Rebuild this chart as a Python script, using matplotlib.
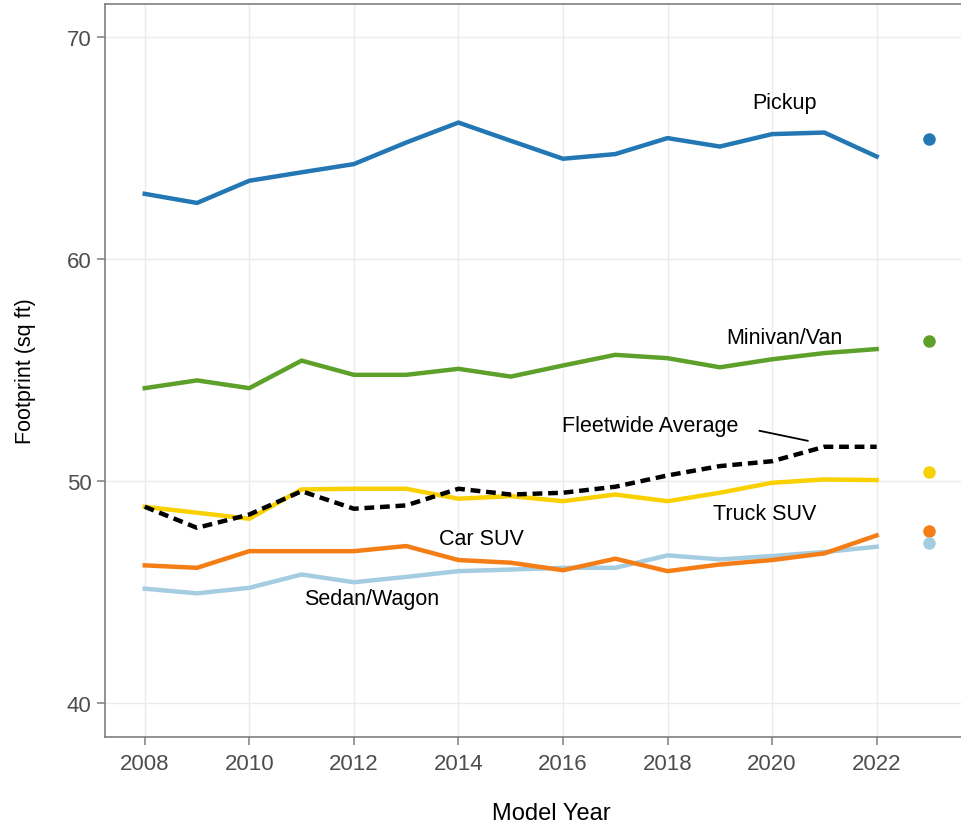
import matplotlib.pyplot as plt

plt.rcParams['font.family'] = ['Liberation Sans', 'DejaVu Sans']

years = list(range(2008, 2023))
dot_year = 2023

pickup = [62.95, 62.54, 63.54, 63.92, 64.29, 65.26, 66.16, 65.34, 64.53, 64.74, 65.46, 65.08, 65.64, 65.71, 64.63]
minivan = [54.2, 54.55, 54.2, 55.44, 54.8, 54.8, 55.07, 54.72, 55.22, 55.7, 55.55, 55.14, 55.5, 55.78, 55.96]
truck_suv = [48.86, 48.59, 48.32, 49.64, 49.67, 49.67, 49.22, 49.34, 49.11, 49.41, 49.11, 49.49, 49.94, 50.09, 50.06]
car_suv = [46.22, 46.11, 46.86, 46.86, 46.86, 47.09, 46.46, 46.34, 46.0, 46.52, 45.96, 46.26, 46.46, 46.76, 47.57]
sedan = [45.17, 44.96, 45.21, 45.81, 45.46, 45.7, 45.96, 46.03, 46.11, 46.11, 46.67, 46.49, 46.64, 46.82, 47.06]
fleet = [48.86, 47.91, 48.51, 49.56, 48.77, 48.92, 49.67, 49.41, 49.49, 49.76, 50.27, 50.69, 50.91, 51.56, 51.56]

# 2023 dots
dots = {'pickup': 65.41, 'minivan': 56.34, 'truck_suv': 50.42, 'car_suv': 47.76, 'sedan': 47.24}

colors = {
    'pickup': '#2377b4',
    'minivan': '#5da02a',
    'truck_suv': '#f9d000',
    'car_suv': '#f57d15',
    'sedan': '#a5cde2',
}

fig = plt.figure(figsize=(9.61, 8.29), dpi=100)
ax = fig.add_axes([0.109, 0.11, 0.93, 0.884])

ax.plot(years, sedan, color=colors['sedan'], lw=3.2, zorder=3)
ax.plot(years, car_suv, color=colors['car_suv'], lw=3.2, zorder=3)
ax.plot(years, truck_suv, color=colors['truck_suv'], lw=3.2, zorder=3)
ax.plot(years, minivan, color=colors['minivan'], lw=3.2, zorder=3)
ax.plot(years, pickup, color=colors['pickup'], lw=3.2, zorder=3)
ax.plot(years, fleet, color='black', lw=3.2, ls=(0, (2.2, 1.3)), zorder=4)

for k in ['pickup', 'minivan', 'truck_suv', 'car_suv', 'sedan']:
    ax.plot([dot_year], [dots[k]], 'o', color=colors[k], ms=8, zorder=5)

fs = 15.5
ax.text(2020.24, 67.08, 'Pickup', fontsize=fs, ha='center', va='center')
ax.text(2020.24, 56.5, 'Minivan/Van', fontsize=fs, ha='center', va='center')
ax.text(2017.66, 52.5, 'Fleetwide Average', fontsize=fs, ha='center', va='center')
ax.plot([2019.76, 2020.68], [52.28, 51.83], color='black', lw=1.3)
ax.text(2019.85, 48.55, 'Truck SUV', fontsize=fs, ha='center', va='center')
ax.text(2014.44, 47.42, 'Car SUV', fontsize=fs, ha='center', va='center')
ax.text(2012.34, 44.72, 'Sedan/Wagon', fontsize=fs, ha='center', va='center')

ax.set_xlim(2007.235, 2024.33)
ax.set_ylim(38.5, 71.5)
ax.set_xticks(range(2008, 2023, 2))
ax.set_yticks([40, 50, 60, 70])
ax.grid(True, color='#ebebeb', lw=1.0, zorder=0)
ax.set_axisbelow(True)

for s in ['left', 'bottom', 'top']:
    ax.spines[s].set_color('#7f7f7f')
    ax.spines[s].set_linewidth(1.2)
ax.spines['right'].set_visible(False)
ax.tick_params(colors='#7f7f7f', labelcolor='#4d4d4d', labelsize=16, length=6, width=1.1)
ax.tick_params(axis='x', pad=6)

ax.set_xlabel('Model Year', fontsize=17, labelpad=20)
ax.set_ylabel('Footprint (sq ft)', fontsize=15.5, labelpad=22)

fig.savefig('out.png', dpi=100)
